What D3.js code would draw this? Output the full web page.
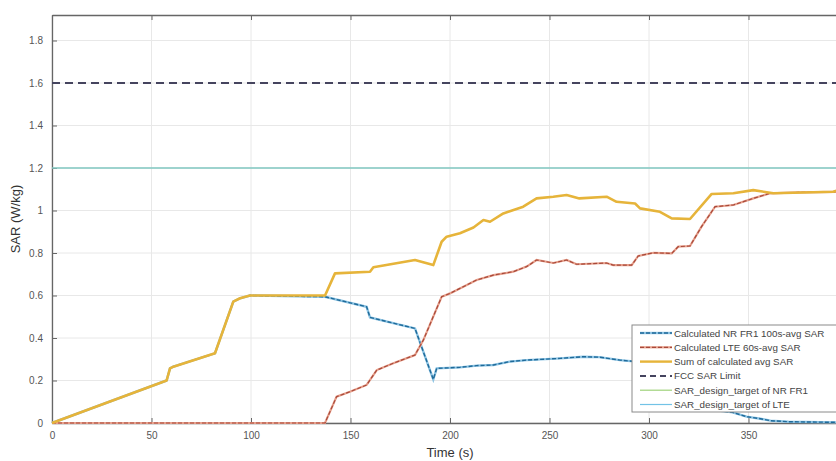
<!DOCTYPE html>
<html>
<head>
<meta charset="utf-8">
<script src="https://cdn.jsdelivr.net/npm/d3@7"></script>
<style>
  html, body { margin: 0; padding: 0; background: #fff; }
  svg { display: block; font-family: "Liberation Sans", Arial, sans-serif; }
</style>
</head>
<body>
<svg id="chart" width="836" height="461"></svg>
<script>
// Time samples (s) and SAR values (W/kg) for each averaged exposure curve
const nrTime = [0, 57.6, 59.3, 61, 81.9, 91.1, 94.5, 99.5, 137.2, 158.1, 159.8, 182.4, 191.6, 193.3, 205, 213.4, 221.8, 230, 238.5, 255.3, 267, 275, 285.4, 292, 298, 305, 312, 320, 327, 334, 342, 349, 356, 361, 370, 395];
const nrSar  = [0, 0.2, 0.257, 0.265, 0.328, 0.571, 0.587, 0.6, 0.594, 0.547, 0.497, 0.445, 0.205, 0.257, 0.262, 0.27, 0.273, 0.289, 0.296, 0.304, 0.312, 0.31, 0.296, 0.29, 0.24, 0.2, 0.165, 0.13, 0.09, 0.06, 0.05, 0.03, 0.02, 0.011, 0.006, 0.003];

const lteTime = [0, 137.2, 143, 149.7, 158.1, 163.2, 171.5, 182.4, 186.6, 195.8, 200, 213.4, 221.8, 231.8, 238.5, 243.5, 251.9, 258.6, 263.6, 278.7, 282, 291.3, 294.6, 302.2, 311.4, 314.7, 320.6, 326.4, 333.2, 342.4, 352.4, 360.8, 375, 395];
const lteSar  = [0, 0, 0.124, 0.147, 0.179, 0.249, 0.281, 0.32, 0.39, 0.594, 0.61, 0.673, 0.696, 0.712, 0.736, 0.767, 0.753, 0.767, 0.747, 0.753, 0.743, 0.743, 0.786, 0.801, 0.798, 0.83, 0.833, 0.924, 1.018, 1.026, 1.057, 1.081, 1.085, 1.088];

const sumTime = [0, 57.6, 59.3, 61, 81.9, 91.1, 94.5, 99.5, 137.2, 142.2, 159.8, 161.5, 182.4, 191.6, 195.8, 198.3, 205, 211.8, 216.8, 220.1, 226.8, 236.8, 243.5, 251.9, 258.6, 265, 278.7, 283.7, 293, 295.5, 305.5, 311.4, 320.6, 331.5, 342.4, 352.4, 362.5, 392.6, 396];
const sumSar  = [0, 0.2, 0.257, 0.265, 0.328, 0.571, 0.587, 0.6, 0.6, 0.704, 0.712, 0.733, 0.767, 0.743, 0.853, 0.877, 0.893, 0.92, 0.955, 0.947, 0.986, 1.018, 1.057, 1.065, 1.073, 1.057, 1.065, 1.041, 1.033, 1.01, 0.994, 0.963, 0.96, 1.078, 1.081, 1.096, 1.081, 1.088, 1.1];

// Fixed reference levels (W/kg)
const fccLimit = 1.6;
const nrTarget = 1.2;
const lteTarget = 1.2;

const xTicks = [0, 50, 100, 150, 200, 250, 300, 350];
const yTicks = [0, 0.2, 0.4, 0.6, 0.8, 1, 1.2, 1.4, 1.6, 1.8];

const legendLabels = [
  "Calculated NR FR1 100s-avg SAR",
  "Calculated LTE 60s-avg SAR",
  "Sum of calculated avg SAR",
  "FCC SAR Limit",
  "SAR_design_target of NR FR1",
  "SAR_design_target of LTE"
];

(function draw() {
  const svg = d3.select("#chart");
  const pLeft = 52, pRight = 848, pTop = 15, pBottom = 423;

  const x = d3.scaleLinear().domain([0, 400]).range([pLeft, pRight]);
  const y = d3.scaleLinear().domain([0, 1.92]).range([pBottom, pTop]);

  // Grid
  const grid = svg.append("g");
  grid.append("g").selectAll("line").data(xTicks).join("line")
    .attr("x1", d => x(d)).attr("x2", d => x(d))
    .attr("y1", pTop).attr("y2", pBottom)
    .attr("stroke", "#e8e8e8").attr("stroke-width", 1);
  grid.append("g").selectAll("line").data(yTicks).join("line")
    .attr("x1", pLeft).attr("x2", pRight)
    .attr("y1", d => y(d)).attr("y2", d => y(d))
    .attr("stroke", "#e8e8e8").attr("stroke-width", 1);

  // Axes (ticks pointing into the plot box)
  const xAxisBottom = d3.axisBottom(x).tickValues(xTicks).tickSizeInner(-5).tickSizeOuter(0).tickPadding(9).tickFormat(d3.format("d"));
  const xAxisTop = d3.axisTop(x).tickValues(xTicks).tickSizeInner(-5).tickSizeOuter(0).tickFormat("");
  const yAxisLeft = d3.axisLeft(y).tickValues(yTicks).tickSizeInner(-5).tickSizeOuter(0).tickPadding(9).tickFormat(d => d3.format("~g")(d));

  function styleAxis(g) {
    g.select(".domain").attr("stroke", "#666").attr("stroke-width", 1.3);
    g.selectAll(".tick line").attr("stroke", "#666");
    g.selectAll(".tick text").attr("fill", "#555").attr("font-size", 10);
  }
  svg.append("g").attr("transform", `translate(0,${pBottom})`).call(xAxisBottom).call(styleAxis);
  svg.append("g").attr("transform", `translate(0,${pTop})`).call(xAxisTop).call(styleAxis);
  svg.append("g").attr("transform", `translate(${pLeft},0)`).call(yAxisLeft).call(styleAxis);

  // Reference levels
  const lines = svg.append("g");
  lines.append("line")
    .attr("x1", pLeft).attr("x2", pRight).attr("y1", y(nrTarget)).attr("y2", y(nrTarget))
    .attr("stroke", "#9fd27a").attr("stroke-width", 1.2);
  lines.append("line")
    .attr("x1", pLeft).attr("x2", pRight).attr("y1", y(lteTarget)).attr("y2", y(lteTarget))
    .attr("stroke", "#72c3e6").attr("stroke-width", 1.2);
  lines.append("line")
    .attr("x1", pLeft).attr("x2", pRight).attr("y1", y(fccLimit)).attr("y2", y(fccLimit))
    .attr("stroke", "#45445e").attr("stroke-width", 2).attr("stroke-dasharray", "8,5");

  // Averaged SAR curves
  const line = d3.line().x(d => x(d[0])).y(d => y(d[1]));
  const zip = (t, v) => t.map((d, i) => [d, v[i]]);

  lines.append("path").datum(zip(nrTime, nrSar))
    .attr("d", line).attr("fill", "none")
    .attr("stroke", "#8cc3e3").attr("stroke-width", 2.4);
  lines.append("path").datum(zip(nrTime, nrSar))
    .attr("d", line).attr("fill", "none")
    .attr("stroke", "#1f6a99").attr("stroke-width", 1.4).attr("stroke-dasharray", "4,2");

  lines.append("path").datum(zip(lteTime, lteSar))
    .attr("d", line).attr("fill", "none")
    .attr("stroke", "#e7a08c").attr("stroke-width", 2.2);
  lines.append("path").datum(zip(lteTime, lteSar))
    .attr("d", line).attr("fill", "none")
    .attr("stroke", "#a8493a").attr("stroke-width", 1.2).attr("stroke-dasharray", "4,2");

  lines.append("path").datum(zip(sumTime, sumSar))
    .attr("d", line).attr("fill", "none")
    .attr("stroke", "#e6b43a").attr("stroke-width", 2.6).attr("stroke-linejoin", "round");

  // Axis titles
  svg.append("text")
    .attr("transform", `translate(20,${(pTop + pBottom) / 2}) rotate(-90)`)
    .attr("text-anchor", "middle").attr("font-size", 13).attr("fill", "#333")
    .text("SAR (W/kg)");
  svg.append("text")
    .attr("x", 450).attr("y", 457)
    .attr("text-anchor", "middle").attr("font-size", 13).attr("fill", "#333")
    .text("Time (s)");

  // Legend
  const lg = svg.append("g").attr("transform", "translate(632,325)");
  lg.append("rect").attr("x", 0).attr("y", 0).attr("width", 215).attr("height", 87)
    .attr("fill", "#fff").attr("stroke", "#8a8a8a").attr("stroke-width", 1);
  const rowY = i => 8 + i * 14.3;
  const sampleStyles = [
    [{ stroke: "#8cc3e3", w: 2.4 }, { stroke: "#1f6a99", w: 1.4, dash: "4,2" }],
    [{ stroke: "#e7a08c", w: 2.2 }, { stroke: "#a8493a", w: 1.2, dash: "4,2" }],
    [{ stroke: "#e6b43a", w: 2.4 }],
    [{ stroke: "#45445e", w: 2, dash: "6,4" }],
    [{ stroke: "#9fd27a", w: 1.2 }],
    [{ stroke: "#72c3e6", w: 1.2 }]
  ];
  legendLabels.forEach((label, i) => {
    sampleStyles[i].forEach(s => {
      lg.append("line").attr("x1", 8).attr("x2", 40)
        .attr("y1", rowY(i)).attr("y2", rowY(i))
        .attr("stroke", s.stroke).attr("stroke-width", s.w)
        .attr("stroke-dasharray", s.dash || null);
    });
    lg.append("text").attr("x", 42).attr("y", rowY(i) + 3.5)
      .attr("font-size", 9.8).attr("fill", "#444").text(label);
  });
})();
</script>
</body>
</html>
